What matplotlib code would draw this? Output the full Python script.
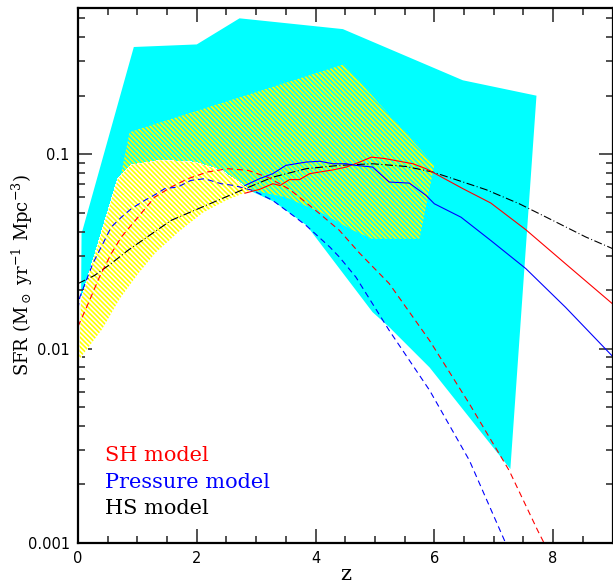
import numpy as np
import matplotlib
matplotlib.use("Agg")
import matplotlib.pyplot as plt

# ---- data (z, SFR) ----
# observational envelope (cyan), upper edge then lower edge
cyan_z = [0.05, 0.06, 0.94, 2.0, 2.72, 4.46, 6.48, 7.72, 7.28, 5.92, 5.24, 4.96, 3.85, 3.3, 2.75, 1.5, 0.05]
cyan_sfr = [0.016, 0.039, 0.356, 0.367, 0.50, 0.44, 0.24, 0.20, 0.0024, 0.0080, 0.0129, 0.0154, 0.043, 0.057, 0.068, 0.06, 0.016]

# hatched box at high z (drawn over the cyan)
hatch_hi_z = [0.72, 0.87, 4.48, 6.0, 5.75, 4.95, 4.6, 4.1, 3.5, 2.85]
hatch_hi_sfr = [0.078, 0.130, 0.29, 0.088, 0.0367, 0.0367, 0.041, 0.050, 0.060, 0.066]

# hatched band at low z (white background)
hatch_lo_z = [0.02, 0.05, 0.67, 0.9, 1.4, 1.96, 2.41, 2.74, 2.9, 2.5, 2.1, 1.7, 1.3, 1.0, 0.7, 0.4, 0.02]
hatch_lo_sfr = [0.0088, 0.0177, 0.0748, 0.088, 0.093, 0.091, 0.0826, 0.0705, 0.065, 0.058, 0.050, 0.040, 0.031, 0.024, 0.018, 0.0125, 0.0088]

# SH model
sh_z = [2.81, 3.06, 3.28, 3.4, 3.56, 3.73, 3.9, 4.07, 4.29, 4.52, 4.74, 4.94, 5.16, 5.41, 5.64, 5.86, 6.03, 6.48, 6.95, 7.54, 8.21, 8.99]
sh_sfr = [0.063, 0.066, 0.0705, 0.069, 0.074, 0.074, 0.0794, 0.081, 0.083, 0.0859, 0.091, 0.0966, 0.095, 0.092, 0.0893, 0.0842, 0.079, 0.0665, 0.0561, 0.0409, 0.0273, 0.0171]
sh_fit_z = [0.0, 0.17, 0.36, 0.56, 0.73, 1.01, 1.29, 1.57, 1.85, 2.18, 2.52, 2.86, 3.2, 3.56, 3.79, 4.07, 4.4, 4.74, 5.24, 5.92, 6.59, 7.26, 7.74, 7.9]
sh_fit_sfr = [0.013, 0.017, 0.0233, 0.0308, 0.0375, 0.0474, 0.0601, 0.0678, 0.0748, 0.081, 0.0842, 0.0826, 0.076, 0.066, 0.058, 0.0494, 0.0406, 0.031, 0.0216, 0.011, 0.0052, 0.00236, 0.00116, 0.00093]

# Pressure model
pr_z = [2.81, 3.06, 3.28, 3.5, 3.84, 4.07, 4.29, 4.52, 4.68, 4.96, 5.24, 5.58, 5.86, 6.0, 6.45, 6.95, 7.54, 8.21, 8.99]
pr_sfr = [0.069, 0.0749, 0.0794, 0.0876, 0.0911, 0.092, 0.0893, 0.0893, 0.0876, 0.0859, 0.0719, 0.0710, 0.0614, 0.0556, 0.0474, 0.036, 0.0258, 0.0163, 0.0092]
pr_fit_z = [0.0, 0.03, 0.25, 0.42, 0.56, 0.73, 0.9, 1.12, 1.3, 1.46, 1.68, 1.9, 2.13, 2.41, 2.63, 2.95, 3.28, 3.62, 3.84, 4.24, 4.4, 4.68, 5.24, 5.92, 6.59, 7.2, 7.35]
pr_fit_sfr = [0.016, 0.0184, 0.0274, 0.0347, 0.0422, 0.0474, 0.0525, 0.0578, 0.062, 0.0665, 0.0678, 0.0733, 0.0748, 0.0705, 0.069, 0.065, 0.0578, 0.0484, 0.043, 0.0333, 0.0296, 0.0233, 0.0124, 0.0061, 0.00266, 0.001, 0.00085]

# HS model
hs_z = [0.0, 0.28, 0.56, 0.84, 1.12, 1.57, 1.96, 2.35, 2.8, 3.28, 3.84, 4.4, 4.96, 5.52, 5.97, 6.31, 6.87, 7.43, 7.99, 8.55, 9.0]
hs_sfr = [0.0216, 0.0238, 0.0274, 0.032, 0.0367, 0.0457, 0.0514, 0.0578, 0.0662, 0.0762, 0.0842, 0.0876, 0.0893, 0.0865, 0.081, 0.0749, 0.0657, 0.0556, 0.0457, 0.0375, 0.0327]

plt.rcParams['mathtext.fontset'] = 'dejavuserif'
plt.rcParams['hatch.linewidth'] = 1.2
plt.rcParams['lines.scale_dashes'] = False

fig = plt.figure(figsize=(6.13, 5.84), dpi=100)
ax = fig.add_axes([78 / 613, 41 / 584, 534.5 / 613, 535 / 584])
ax.set_yscale('log')
ax.set_xlim(0, 9)
ax.set_ylim(0.001, 0.565)

dense = '\\' * 7
ax.fill(cyan_z, cyan_sfr, color='#00ffff', lw=0, zorder=1)
ax.fill(hatch_hi_z, hatch_hi_sfr, facecolor='none', edgecolor='#ffff00', lw=0,
        hatch=dense, antialiased=False, zorder=2)
ax.fill(hatch_lo_z, hatch_lo_sfr, facecolor='white', edgecolor='#ffff00', lw=0,
        hatch=dense, antialiased=False, zorder=3)

lw = 0.8
ax.plot(hs_z, hs_sfr, color='black', lw=lw, dashes=(5.8, 1.8, 0.7, 1.8), zorder=4)
ax.plot(sh_fit_z, sh_fit_sfr, color='red', lw=lw, dashes=(4.3, 2.9), zorder=4)
ax.plot(pr_fit_z, pr_fit_sfr, color='blue', lw=lw, dashes=(4.3, 2.9), zorder=4)
ax.plot(sh_z, sh_sfr, color='red', lw=lw, zorder=5)
ax.plot(pr_z, pr_sfr, color='blue', lw=lw, zorder=5)

# labels inside the plot
serif = 'DejaVu Serif'
ax.text(0.05, 0.163, 'SH model', color='red', fontsize=15, family=serif,
        transform=ax.transAxes, va='center')
ax.text(0.05, 0.114, 'Pressure model', color='blue', fontsize=15, family=serif,
        transform=ax.transAxes, va='center')
ax.text(0.05, 0.065, 'HS model', color='black', fontsize=15, family=serif,
        transform=ax.transAxes, va='center')

ax.set_xlabel('z', fontsize=15, family=serif)
ax.set_ylabel(r'SFR (M$_\odot$ yr$^{-1}$ Mpc$^{-3}$)', fontsize=13, family=serif)
ax.xaxis.set_label_coords(0.5, -0.058)
ax.xaxis.label.set_va('center')
ax.yaxis.set_label_coords(-0.104, 0.5)
ax.yaxis.label.set_va('center')

ax.set_xticks([0, 2, 4, 6, 8])
ax.set_xticks(np.arange(0, 9.01, 0.5), minor=True)
ax.set_yticks([0.001, 0.01, 0.1])
ax.set_yticklabels(['0.001', '0.01', '0.1'])
ax.tick_params(which='both', direction='in', top=True, right=True, labelsize=10.5,
               width=1.2, color='#333333')
ax.tick_params(which='major', length=10, pad=6)
ax.tick_params(which='minor', length=5)
for s in ax.spines.values():
    s.set_linewidth(1.6)
    s.set_zorder(6)

fig.savefig('out.png', dpi=100)
